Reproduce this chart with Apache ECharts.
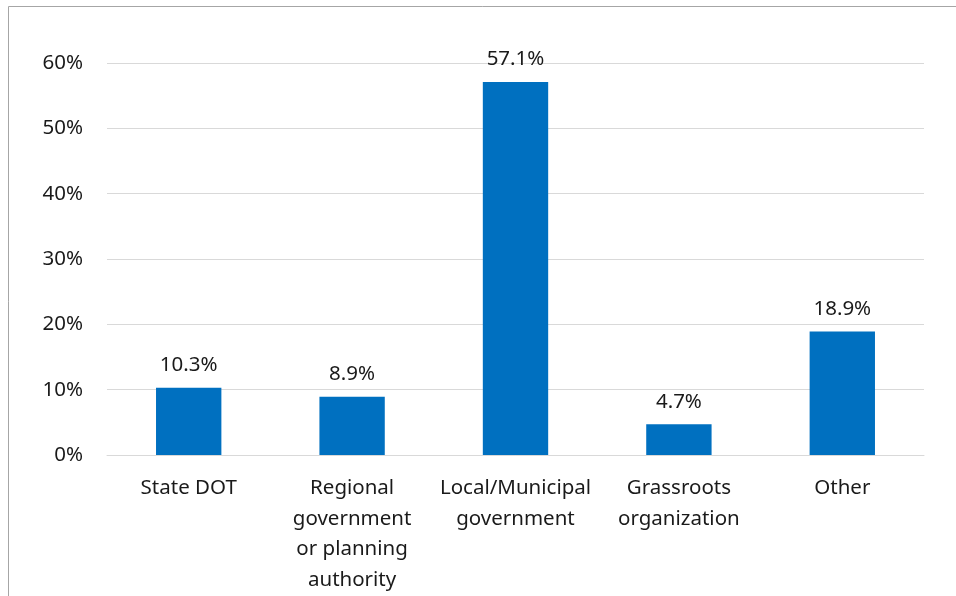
<!DOCTYPE html>
<html><head><meta charset="utf-8">
<script src="https://cdn.jsdelivr.net/npm/echarts@6/dist/echarts.min.js"></script>
<style>html,body{margin:0;padding:0;background:#fff}#c{width:956px;height:596px}</style>
</head><body><div id="c"></div>
<script>
const categories = ["State DOT", "Regional\ngovernment\nor planning\nauthority", "Local/Municipal\ngovernment", "Grassroots\norganization", "Other"];
const values = [10.3, 8.9, 57.1, 4.7, 18.9];
const yTicks = [0, 10, 20, 30, 40, 50, 60];
const FONT = "Noto Sans";
const chart = echarts.init(document.getElementById('c'), null, {renderer: 'canvas'});
chart.setOption({
  animation: false,
  backgroundColor: '#fff',
  graphic: [{type: 'rect', shape: {x: 8.5, y: 6.5, width: 1000, height: 700}, style: {fill: 'none', stroke: '#a6a6a6', lineWidth: 1}, silent: true}],
  grid: {left: 107, right: 32, top: 63, bottom: 141},
  xAxis: {
    type: 'category', data: categories,
    axisLine: {lineStyle: {color: '#d9d9d9', width: 1}},
    axisTick: {show: false},
    axisLabel: {color: '#1a1a1a', fontFamily: FONT, fontSize: 20.5, lineHeight: 30.5, margin: 18, interval: 0}
  },
  yAxis: {
    type: 'value', min: yTicks[0], max: yTicks[yTicks.length - 1], interval: 10,
    axisLine: {show: false}, axisTick: {show: false},
    splitLine: {lineStyle: {color: '#d9d9d9', width: 1}},
    axisLabel: {color: '#1a1a1a', fontFamily: FONT, fontSize: 20.5, margin: 24, formatter: v => v + '%'}
  },
  series: [{
    type: 'bar', data: values, barCategoryGap: '60%',
    itemStyle: {color: '#0070C0'},
    label: {show: true, position: 'top', distance: 12, color: '#1a1a1a', fontFamily: FONT, fontSize: 20.5, formatter: p => p.value.toFixed(1) + '%'}
  }]
});
</script></body></html>
